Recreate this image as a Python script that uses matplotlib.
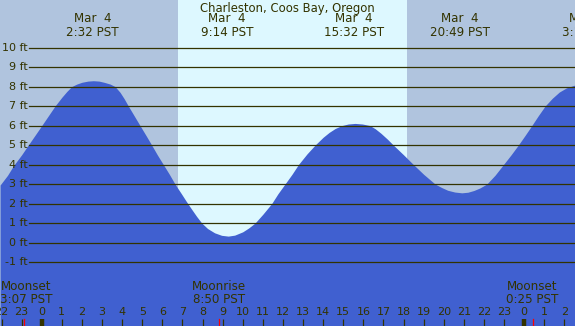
import matplotlib
matplotlib.use("Agg")
import matplotlib.pyplot as plt

# tide height (ft), hours from midnight Mar 4 (PST)
hours = [-2.07, -1.7, -1.4, -1.0, -0.67, -0.3, 0.0, 0.33, 0.66, 1.0, 1.25,
         1.49, 1.75, 2.0, 2.3, 2.57, 2.85, 3.1, 3.4, 3.65, 3.9, 4.1, 4.31,
         4.6, 4.89, 5.2, 5.47, 5.75, 6.05, 6.35, 6.63, 6.95, 7.2, 7.43, 7.7,
         7.96, 8.25, 8.6, 8.95, 9.28, 9.6, 10.0, 10.3, 10.61, 11.0, 11.44,
         11.75, 12.1, 12.45, 12.77, 13.2, 13.6, 14.0, 14.3, 14.6, 14.93,
         15.25, 15.59, 15.95, 16.33, 16.6, 16.88, 17.2, 17.49, 18.0, 18.49,
         19.0, 19.57, 19.9, 20.2, 20.55, 20.9, 21.2, 21.5, 21.8, 22.14,
         22.55, 22.97, 23.35, 23.71, 24.05, 24.38, 24.7, 25.04, 25.4,
         25.75, 26.1, 26.53]
height = [2.95, 3.45, 3.95, 4.5, 5.0, 5.55, 6.0, 6.5, 7.0, 7.45, 7.75,
          8.0, 8.13, 8.22, 8.28, 8.3, 8.28, 8.22, 8.13, 8.0, 7.7, 7.38, 7.0,
          6.5, 6.0, 5.47, 5.0, 4.5, 4.0, 3.5, 3.0, 2.5, 2.1, 1.75, 1.35,
          1.0, 0.72, 0.5, 0.37, 0.33, 0.38, 0.55, 0.75, 1.0, 1.45, 2.0,
          2.5, 3.0, 3.5, 4.0, 4.55, 5.0, 5.4, 5.65, 5.85, 6.0,
          6.08, 6.11, 6.08, 6.0, 5.83, 5.6, 5.3, 5.0, 4.5, 4.0,
          3.5, 3.0, 2.82, 2.68, 2.59, 2.55, 2.58, 2.67, 2.8, 3.0,
          3.45, 4.0, 4.5, 5.0, 5.5, 6.0, 6.5, 7.0, 7.4,
          7.72, 7.93, 8.08]

# tide extremes shown at the top
ext_hours = [2.53, 9.23, 15.53, 20.82, 27.18]
ext_labels = ["Mar  4\n2:32 PST", "Mar  4\n9:14 PST", "Mar  4\n15:32 PST",
              "Mar  4\n20:49 PST", "Mar  4\n3:18 PST"]

sunrise = 6.78
sunset = 18.17

# moon events
moon_hours = [-0.88, 8.83, 24.42]
moon_labels = ["Moonset\n3:07 PST", "Moonrise\n8:50 PST", "Moonset\n0:25 PST"]

ft_levels = list(range(-1, 11))
hour_ticks = list(range(-2, 27))

txt = "#333300"
night = "#B0C4DE"
day = "#DDF8FF"
water = "#4060D0"

fig = plt.figure(figsize=(5.75, 3.26), dpi=100)
ax = fig.add_axes([0, 0, 1, 1])
x0, x1 = -2.075, 26.53
y0, y1 = -4.28, 12.44
ax.set_xlim(x0, x1)
ax.set_ylim(y0, y1)
ax.axis("off")

# day / night background
ax.axvspan(x0, sunrise, color=night, lw=0, zorder=0)
ax.axvspan(sunrise, sunset, color=day, lw=0, zorder=0)
ax.axvspan(sunset, x1, color=night, lw=0, zorder=0)

# water
ax.fill_between(hours, height, y0, color=water, lw=0, zorder=1)

# height grid lines + labels
gx = x0 + 29 / 20.1
for f in ft_levels:
    ax.plot([gx, x1], [f, f], color=txt, lw=0.9, zorder=2)
    ax.text(gx - 0.08, f, "%d ft" % f, ha="right", va="center",
            fontsize=8, color=txt, zorder=3)

# title and extremes
ax.text(0.5, 0.975, "Charleston, Coos Bay, Oregon", transform=ax.transAxes,
        ha="center", va="center", fontsize=8.4, color=txt)
for h, lab in zip(ext_hours, ext_labels):
    ax.text(h, 11.13, lab, ha="center", va="center", fontsize=8.6,
            color=txt, linespacing=1.05)

# hour ticks along the bottom
for h in hour_ticks:
    ax.text(h, -3.55, str(h % 24), ha="center", va="center", fontsize=8,
            color=txt)
    w = 3.2 if h % 24 == 0 else 0.9
    ax.plot([h, h], [-3.92, y0 - 1], color=txt, lw=w, zorder=3,
            solid_capstyle="butt")
ax.set_ylim(y0, y1)

# moon events
for i, (h, lab) in enumerate(zip(moon_hours, moon_labels)):
    ax.plot([h, h], [-3.92, y0 - 1], color="red", lw=0.9, zorder=4)
    if i == 0:
        ax.text(x0 + 0.02, -2.59, lab, ha="left", va="center", fontsize=8.6,
                color=txt, linespacing=1.0)
    else:
        ax.text(h, -2.59, lab, ha="center", va="center", fontsize=8.6,
                color=txt, linespacing=1.0)

fig.savefig("out.png", dpi=100)
